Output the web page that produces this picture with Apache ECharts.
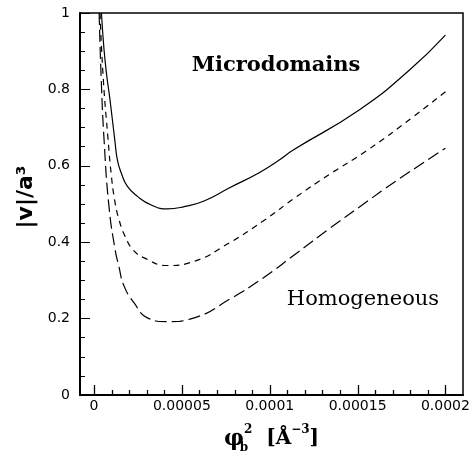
<!DOCTYPE html>
<html>
<head>
<meta charset="utf-8">
<script src="https://cdn.jsdelivr.net/npm/echarts@6/dist/echarts.min.js"></script>
<style>
  html, body { margin: 0; padding: 0; background: #fff; }
  #main { width: 476px; height: 456px; }
</style>
</head>
<body>
<div id="main"></div>
<script>
// 三条曲线：横轴 phi_b^2，纵轴 |v|/a^3
var solidX = [0.0000042, 0.0000057, 0.0000072, 0.0000091, 0.0000118, 0.0000133, 0.0000155, 0.000019, 0.0000247, 0.0000323, 0.0000417, 0.0000513, 0.0000626, 0.0000769, 0.000094, 0.0001054, 0.0001129, 0.0001509, 0.0001794, 0.0002];
var solidY = [1.0, 0.903, 0.837, 0.772, 0.668, 0.615, 0.581, 0.546, 0.520, 0.498, 0.487, 0.493, 0.508, 0.542, 0.582, 0.615, 0.640, 0.746, 0.850, 0.942];

var shortX = [0.0000034, 0.0000053, 0.000008, 0.0000097, 0.0000117, 0.0000142, 0.0000177, 0.0000222, 0.0000285, 0.0000417, 0.000057, 0.0000769, 0.0000958, 0.0001149, 0.0001338, 0.0001547, 0.0001813, 0.0002];
var shortY = [1.0, 0.824, 0.668, 0.581, 0.511, 0.459, 0.415, 0.380, 0.359, 0.339, 0.350, 0.398, 0.454, 0.518, 0.577, 0.638, 0.727, 0.794];

var longX = [0.0000029, 0.0000041, 0.0000057, 0.0000085, 0.000012, 0.000014, 0.0000171, 0.0000228, 0.0000304, 0.0000417, 0.000057, 0.000078, 0.0000958, 0.0001149, 0.0001338, 0.0001528, 0.0001718, 0.0002];
var longY = [1.0, 0.824, 0.668, 0.493, 0.380, 0.339, 0.285, 0.241, 0.202, 0.192, 0.202, 0.253, 0.305, 0.370, 0.435, 0.498, 0.560, 0.646];

// 坐标范围与刻度
var xRange = [-0.000008, 0.00021];
var yRange = [0, 1];
var xMajor = [0, 0.00005, 0.0001, 0.00015, 0.0002];
var xMajorLabels = ['0', '0.00005', '0.0001', '0.00015', '0.0002'];
var xMinor = [0.00001, 0.00002, 0.00003, 0.00004, 0.00006, 0.00007, 0.00008, 0.00009,
  0.00011, 0.00012, 0.00013, 0.00014, 0.00016, 0.00017, 0.00018, 0.00019];
var yTickLabels = ['0', '0.2', '0.4', '0.6', '0.8', '1'];

function pairs(xs, ys) {
  var out = [];
  for (var i = 0; i < xs.length; i++) out.push([xs[i], ys[i]]);
  return out;
}

var black = '#000';
var plotH = 382;

var texts = [
  {
    type: 'text', x: 276, y: 66,
    style: { text: 'Microdomains', font: 'bold 21px "DejaVu Serif"', fill: black, align: 'center', verticalAlign: 'middle' }
  },
  {
    type: 'text', x: 363, y: 300,
    style: { text: 'Homogeneous', font: '21px "DejaVu Serif"', fill: black, align: 'center', verticalAlign: 'middle' }
  }
];

var chart = echarts.init(document.getElementById('main'));

var option = {
  animation: false,
  backgroundColor: '#fff',
  grid: {
    left: 80, top: 13, width: 383, height: plotH,
    show: true, borderColor: black, borderWidth: 1.5,
    backgroundColor: 'rgba(0,0,0,0)',
    outerBoundsMode: 'none'
  },
  xAxis: {
    type: 'value',
    min: xRange[0],
    max: xRange[1],
    axisLine: { show: true, onZero: false, lineStyle: { color: black, width: 2 } },
    splitLine: { show: false },
    axisTick: { show: false },
    axisLabel: {
      customValues: xMajor,
      color: black, fontSize: 14, fontFamily: 'DejaVu Sans', margin: 4,
      formatter: function (v) {
        for (var i = 0; i < xMajor.length; i++) {
          if (Math.abs(xMajor[i] - v) < 1e-9) return xMajorLabels[i];
        }
        return '';
      }
    },
    name: '{phi|φ}{sb|b}{sp|2}{br|  [Å}{sp3|−3}{br|]}',
    nameLocation: 'middle',
    nameGap: 29,
    nameTextStyle: {
      color: black,
      rich: {
        phi: { fontSize: 22, fontWeight: 'bold', fontFamily: 'DejaVu Serif', lineHeight: 30, color: black },
        sb: { fontSize: 12, fontWeight: 'bold', fontFamily: 'DejaVu Serif', verticalAlign: 'bottom', lineHeight: 16, width: 0, color: black },
        sp: { fontSize: 12, fontWeight: 'bold', fontFamily: 'DejaVu Serif', verticalAlign: 'top', lineHeight: 14, color: black },
        br: { fontSize: 20, fontWeight: 'bold', fontFamily: 'DejaVu Serif', lineHeight: 30, color: black },
        sp3: { fontSize: 12, fontWeight: 'bold', fontFamily: 'DejaVu Serif', verticalAlign: 'top', lineHeight: 16, color: black }
      }
    }
  },
  yAxis: {
    type: 'value',
    min: yRange[0],
    max: yRange[1],
    interval: 0.2,
    axisLine: { show: true, onZero: false, lineStyle: { color: black, width: 2 } },
    splitLine: { show: false },
    axisTick: { show: true, inside: true, length: 10, lineStyle: { color: black, width: 1 } },
    minorTick: { show: true, splitNumber: 4, length: 5, lineStyle: { color: black, width: 1 } },
    minorSplitLine: { show: false },
    axisLabel: {
      color: black, fontSize: 14, fontFamily: 'DejaVu Sans', margin: 10,
      formatter: function (v, i) { return yTickLabels[i]; }
    },
    name: '|v|/a³',
    nameLocation: 'middle',
    nameRotate: 90,
    nameGap: 43,
    nameTextStyle: { color: black, fontSize: 22, fontWeight: 'bold', fontFamily: 'DejaVu Sans', padding: [0, 0, 0, 14] }
  },
  graphic: texts,
  series: [
    {
      type: 'line', data: pairs(solidX, solidY),
      showSymbol: false, smooth: 0.5,
      lineStyle: { color: black, width: 1.2, type: 'solid' }
    },
    {
      type: 'line', data: pairs(shortX, shortY),
      showSymbol: false, smooth: 0.5,
      lineStyle: { color: black, width: 1.2, type: [6, 5] }
    },
    {
      type: 'line', data: pairs(longX, longY),
      showSymbol: false, smooth: 0.5,
      lineStyle: { color: black, width: 1.2, type: [12, 5] }
    }
  ]
};

chart.setOption(option);

// x 轴刻度线：位置由坐标轴换算，朝内；放在单独的 zlevel 层上
var baseY = chart.convertToPixel({ yAxisIndex: 0 }, yRange[0]);
function tickLine(v, len) {
  var px = Math.round(chart.convertToPixel({ xAxisIndex: 0 }, v)) + 0.5;
  return {
    type: 'line', zlevel: 1, z: 100, silent: true,
    shape: { x1: px, y1: baseY - 1, x2: px, y2: baseY - 1 - len },
    style: { stroke: black, lineWidth: 1.3 }
  };
}
var ticks = [];
xMajor.forEach(function (v) { ticks.push(tickLine(v, 9)); });
xMinor.forEach(function (v) { ticks.push(tickLine(v, 4)); });
chart.setOption({ graphic: texts.concat(ticks) });
</script>
</body>
</html>
